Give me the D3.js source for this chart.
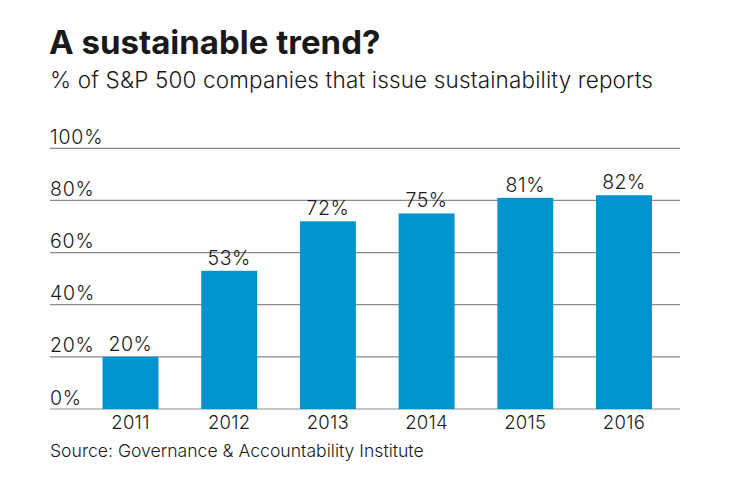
<!DOCTYPE html>
<html>
<head>
<meta charset="utf-8">
<script src="https://cdn.jsdelivr.net/npm/d3@7"></script>
<style>
  body { margin: 0; background: #fff; }
  text { font-family: Inter, "Open Sans", sans-serif; fill: #1a1a1a; }
</style>
</head>
<body>
<script>
// data
var years = ["2011", "2012", "2013", "2014", "2015", "2016"];
var shares = [20, 53, 72, 75, 81, 82];
var yTicks = [0, 20, 40, 60, 80, 100];

var svg = d3.select("body").append("svg").attr("width", 740).attr("height", 482);

var x = d3.scaleBand().domain(years).range([82.8, 671.7]).paddingInner(0.433).paddingOuter(0.2);
var y = d3.scaleLinear().domain([0, 100]).range([409, 148.3]);

svg.append("text").attr("x", 49).attr("y", 53.5).attr("font-size", 33).attr("font-weight", 700).text("A sustainable trend?");
svg.append("text").attr("x", 50).attr("y", 87.5).attr("font-size", 22.5).attr("font-weight", 350).attr("letter-spacing", 0.15)
    .text("% of S&P 500 companies that issue sustainability reports");

// gridlines + labels
var grid = svg.append("g");
grid.selectAll("line").data(yTicks).join("line")
    .attr("x1", 50).attr("x2", 680)
    .attr("y1", d => y(d)).attr("y2", d => y(d))
    .attr("stroke", "#8a8a8a").attr("stroke-width", 1.2);
grid.selectAll("text").data(yTicks).join("text")
    .attr("x", 50).attr("y", d => y(d) - 4.5)
    .attr("font-size", 19.5).attr("font-weight", 350).attr("letter-spacing", 0.8)
    .text(d => d + "%");

// bars
svg.selectAll("rect.bar").data(years).join("rect").attr("class", "bar")
    .attr("x", d => x(d)).attr("width", x.bandwidth())
    .attr("y", (d, i) => y(shares[i])).attr("height", (d, i) => y(0) - y(shares[i]))
    .attr("fill", "#0093d0");

svg.selectAll("text.val").data(years).join("text").attr("class", "val")
    .attr("x", d => x(d) + x.bandwidth() / 2).attr("y", (d, i) => y(shares[i]) - 6)
    .attr("text-anchor", "middle").attr("font-size", 19.5).attr("font-weight", 350).attr("letter-spacing", 0.5)
    .text((d, i) => shares[i] + "%");

// x axis labels
svg.selectAll("text.yr").data(years).join("text").attr("class", "yr")
    .attr("x", d => x(d) + x.bandwidth() / 2).attr("y", 428.5)
    .attr("text-anchor", "middle").attr("font-size", 18.5).attr("font-weight", 350).attr("letter-spacing", 0.3)
    .text(d => d);

svg.append("text").attr("x", 50).attr("y", 456.5).attr("font-size", 17.6).attr("font-weight", 350)
    .text("Source: Governance & Accountability Institute");
</script>
</body>
</html>
